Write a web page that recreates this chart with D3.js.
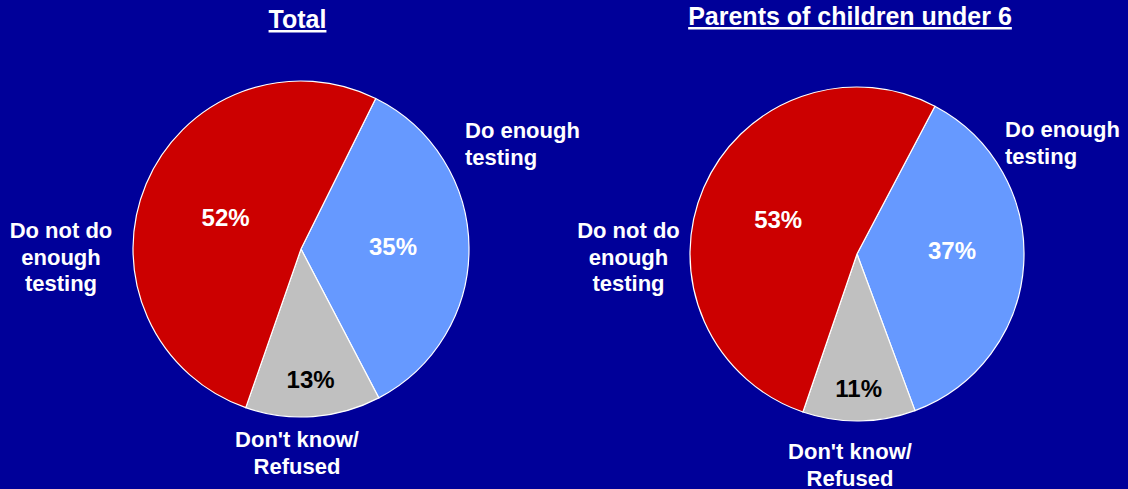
<!DOCTYPE html>
<html>
<head>
  <meta charset="utf-8">
  <script src="https://d3js.org/d3.v7.min.js"></script>
  <style>
    body { margin:0; background:#000099; }
    text { font-family: "Liberation Sans", Arial, sans-serif; font-weight: bold; }
  </style>
</head>
<body>
<script>
  const width = 1128;
  const height = 489;

  // data
  const categories = ["Do enough testing", "Don't know/ Refused", "Do not do enough testing"];
  const totalValues = [35, 13, 52];
  const parentsValues = [37, 11, 53];
  const titles = ["Total", "Parents of children under 6"];

  const colours = d3.scaleOrdinal()
    .domain(categories)
    .range(["#6699ff", "#c0c0c0", "#cc0000"]);
  const labelColours = { "Do enough testing": "#ffffff", "Don't know/ Refused": "#000000", "Do not do enough testing": "#ffffff" };

  const svg = d3.select("body").append("svg")
    .attr("width", width)
    .attr("height", height);

  svg.append("rect").attr("width", width).attr("height", height).attr("fill", "#000099");

  // layout for each pie
  const pies = [
    { title: titles[0], values: totalValues, cx: 301, cy: 249, r: 168, start: 26.4, titleX: 297.5, titleY: 28,
      outside: [
        { lines: ["Do enough", "testing"], x: 465, y: 138, anchor: "start" },
        { lines: ["Don't know/", "Refused"], x: 297, y: 447, anchor: "middle" },
        { lines: ["Do not do", "enough", "testing"], x: 61, y: 238, anchor: "middle" }
      ],
      inner: [0.548, 0.78, 0.487], shift: [-1, 0, 0] },
    { title: titles[1], values: parentsValues, cx: 857, cy: 254, r: 167, start: 27.8, titleX: 850, titleY: 25,
      outside: [
        { lines: ["Do enough", "testing"], x: 1005, y: 137, anchor: "start" },
        { lines: ["Don't know/", "Refused"], x: 850, y: 459, anchor: "middle" },
        { lines: ["Do not do", "enough", "testing"], x: 628.5, y: 238, anchor: "middle" }
      ],
      inner: [0.569, 0.805, 0.514], shift: [-5.8, 0, 0] }
  ];

  pies.forEach(function(p) {
    const data = categories.map((c, i) => ({ cat: c, value: p.values[i] }));
    const startRad = p.start * Math.PI / 180;
    const pie = d3.pie()
      .sort(null)
      .value(d => d.value)
      .startAngle(startRad)
      .endAngle(startRad + 2 * Math.PI);
    const arcs = pie(data);
    const arc = d3.arc().innerRadius(0).outerRadius(p.r);

    const g = svg.append("g").attr("transform", `translate(${p.cx},${p.cy})`);

    g.selectAll("path")
      .data(arcs)
      .enter()
      .append("path")
      .attr("d", arc)
      .attr("fill", d => colours(d.data.cat))
      .attr("stroke", "#ffffff")
      .attr("stroke-width", 1.2);

    g.selectAll("text.pct")
      .data(arcs)
      .enter()
      .append("text")
      .attr("class", "pct")
      .attr("transform", function(d, i) {
        const a = (d.startAngle + d.endAngle) / 2 + p.shift[i] * Math.PI / 180;
        const rr = p.r * p.inner[i];
        return `translate(${Math.sin(a) * rr},${-Math.cos(a) * rr})`;
      })
      .attr("dy", "0.35em")
      .attr("text-anchor", "middle")
      .attr("fill", d => labelColours[d.data.cat])
      .style("font-size", "24px")
      .text(d => d.value + "%");

    // outside category labels
    p.outside.forEach(function(o) {
      const t = svg.append("text")
        .attr("text-anchor", o.anchor)
        .attr("fill", "#ffffff")
        .style("font-size", "22px");
      o.lines.forEach(function(line, j) {
        t.append("tspan").attr("x", o.x).attr("y", o.y + j * 26.5).text(line);
      });
    });

    // title
    svg.append("text")
      .attr("x", p.titleX)
      .attr("y", p.titleY)
      .attr("text-anchor", "middle")
      .attr("fill", "#ffffff")
      .style("font-size", "25px")
      .style("text-decoration", "underline")
      .text(p.title);
  });
</script>
</body>
</html>
